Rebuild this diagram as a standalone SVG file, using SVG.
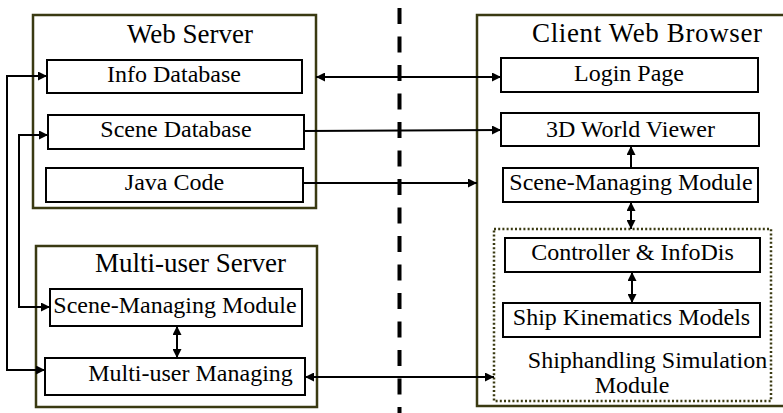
<svg xmlns="http://www.w3.org/2000/svg" width="783" height="413" viewBox="0 0 783 413">
  <style>
    .bg { fill: #ffffff; }
    .outer { fill: none; stroke: #3a3a12; stroke-width: 2.5; }
    .dotted { fill: none; stroke: #3a3a12; stroke-width: 2.5; stroke-dasharray: 2 2.2; }
    .box { fill: #ffffff; stroke: #000000; stroke-width: 2; }
    text { font-family: 'Liberation Serif', 'Times New Roman', Times, Tinos, 'Noto Serif', 'DejaVu Serif', serif; fill: #000000; }
    .title { font-size: 27px; }
    .label { font-size: 24px; }
    .c { text-anchor: middle; }
    .link { fill: none; stroke: #000000; stroke-width: 2; }
    .divider { fill: none; stroke: #000000; stroke-width: 4; stroke-dasharray: 16 12.5; }
  </style>
  <defs>
    <marker id="head" viewBox="0 0 10 10" markerUnits="userSpaceOnUse" markerWidth="10" markerHeight="9" refX="10" refY="5" orient="auto-start-reverse">
      <path d="M0,0 L10,5 L0,10 z" fill="#000000"/>
    </marker>
  </defs>

  <rect class="bg" x="0" y="0" width="783" height="413"/>

  <!-- network boundary between server side and client side -->
  <line class="divider" x1="399.5" y1="8" x2="399.5" y2="413"/>

  <!-- server side -->
  <g id="web-server">
    <rect class="outer" x="33" y="15" width="283" height="193"/>
    <text class="title c" x="190" y="43" font-family="Liberation Serif, serif">Web Server</text>
  </g>
  <g id="info-database">
    <rect class="box" x="47" y="60" width="255" height="33"/>
    <text class="label c" x="174" y="82">Info Database</text>
  </g>
  <g id="scene-database">
    <rect class="box" x="48" y="115" width="256" height="34"/>
    <text class="label c" x="176" y="137">Scene Database</text>
  </g>
  <g id="java-code">
    <rect class="box" x="46" y="168" width="257" height="34"/>
    <text class="label c" x="174.5" y="190">Java Code</text>
  </g>

  <g id="multi-user-server">
    <rect class="outer" x="36" y="246" width="281" height="161"/>
    <text class="title c" x="190.5" y="272">Multi-user Server</text>
  </g>
  <g id="server-scene-module">
    <rect class="box" x="50" y="289" width="252" height="37"/>
    <text class="label c" x="175" y="313">Scene-Managing Module</text>
  </g>
  <g id="multi-user-managing">
    <rect class="box" x="45" y="358" width="260" height="37"/>
    <text class="label c" x="190.5" y="381">Multi-user Managing</text>
  </g>

  <!-- client side -->
  <g id="client-web-browser">
    <rect class="outer" x="477" y="15" width="320" height="391"/>
    <text class="title" x="532" y="42" textLength="230" lengthAdjust="spacing">Client Web Browser</text>
  </g>
  <g id="login-page">
    <rect class="box" x="501" y="58" width="257" height="34"/>
    <text class="label c" x="629" y="81">Login Page</text>
  </g>
  <g id="world-viewer">
    <rect class="box" x="501" y="113" width="258" height="33"/>
    <text class="label c" x="630.5" y="137">3D World Viewer</text>
  </g>
  <g id="client-scene-module">
    <rect class="box" x="503" y="168" width="255" height="34"/>
    <text class="label c" x="631" y="190">Scene-Managing Module</text>
  </g>
  <g id="shiphandling-module">
    <rect class="dotted" x="494" y="229" width="277" height="172"/>
    <text class="label c" x="647.5" y="368">Shiphandling Simulation</text>
    <text class="label c" x="632" y="393">Module</text>
  </g>
  <g id="controller-infodis">
    <rect class="box" x="505" y="238" width="255" height="34"/>
    <text class="label c" x="632.5" y="260">Controller &amp; InfoDis</text>
  </g>
  <g id="ship-kinematics">
    <rect class="box" x="503" y="303" width="257" height="34"/>
    <text class="label c" x="631.5" y="325">Ship Kinematics Models</text>
  </g>

  <!-- connectors -->
  <g id="connectors">
    <!-- multi-user managing feeds the info database -->
    <polyline class="link" points="45,370 7,370 7,76 47,76" marker-end="url(#head)"/>
    <path class="link" d="M7,370 L45,370" marker-end="url(#head)"/>
    <!-- scene database feeds the server scene module -->
    <polyline class="link" points="48,135 19,135 19,307 50,307" marker-end="url(#head)"/>
    <path class="link" d="M19,135 L48,135" marker-end="url(#head)"/>
    <!-- web server to client -->
    <line class="link" x1="316" y1="77" x2="501" y2="77" marker-start="url(#head)" marker-end="url(#head)"/>
    <line class="link" x1="304" y1="131" x2="501" y2="130" marker-end="url(#head)"/>
    <line class="link" x1="303" y1="183" x2="477" y2="183" marker-end="url(#head)"/>
    <!-- inside the client -->
    <line class="link" x1="631" y1="168" x2="631" y2="146" marker-end="url(#head)"/>
    <line class="link" x1="631" y1="202" x2="631" y2="229" marker-start="url(#head)" marker-end="url(#head)"/>
    <line class="link" x1="632" y1="272" x2="632" y2="303" marker-start="url(#head)" marker-end="url(#head)"/>
    <!-- inside the multi-user server -->
    <line class="link" x1="177" y1="326" x2="177" y2="358" marker-start="url(#head)" marker-end="url(#head)"/>
    <!-- multi-user managing to the simulation module -->
    <line class="link" x1="305" y1="377" x2="494" y2="377" marker-start="url(#head)" marker-end="url(#head)"/>
  </g>
</svg>
